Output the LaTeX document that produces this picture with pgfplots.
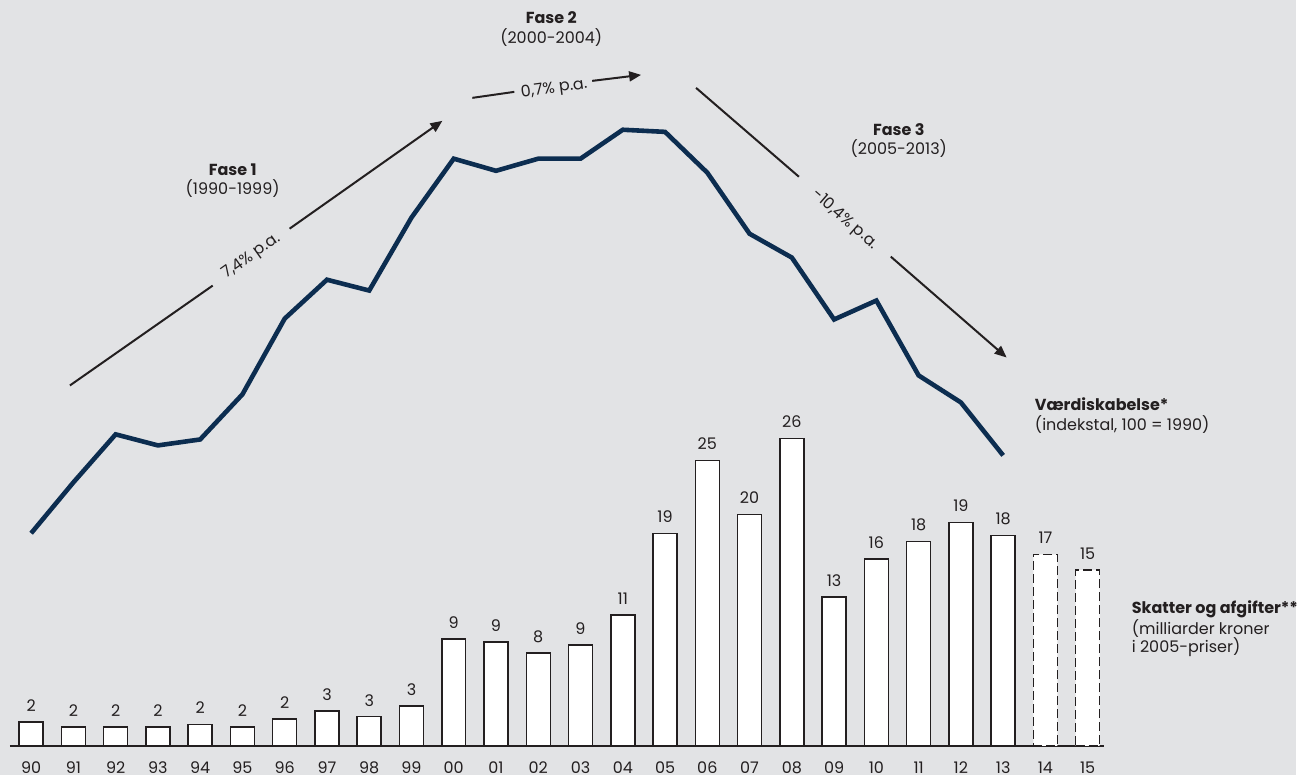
\documentclass[border=0pt]{standalone}
\usepackage{fontspec}
\setmainfont{Poppins}
\usepackage{pgfplots}
\pgfplotsset{compat=1.18}
\usetikzlibrary{arrows.meta}
\definecolor{bg}{RGB}{226,227,229}
\definecolor{navy}{RGB}{12,45,80}
\definecolor{txt}{RGB}{35,31,32}
\newcommand\f{\fontsize{8}{10}\selectfont}
\begin{document}
\begin{tikzpicture}
\fill[bg] (0,0) rectangle (649pt,388pt);
% bars
\begin{axis}[at={(5pt,14.5pt)}, anchor=south west, x=21.16pt, y=5.8pt,
  xmin=-0.5, xmax=25.38, ymin=0, ymax=64.4, clip=false,
  axis x line=bottom, axis y line=none, x axis line style={-, draw=txt, line width=0.8pt},
  xtick={0,...,25}, ytick=\empty,
  xticklabels={90,91,92,93,94,95,96,97,98,99,00,01,02,03,04,05,06,07,08,09,10,11,12,13,14,15},
  major tick length=0pt,
  xticklabel style={anchor=base, yshift=-14pt, font=\f, text=txt},
  every node near coord/.append style={font=\f, text=txt, yshift=1.5pt},
]
\addplot[ybar, bar width=12pt, bar shift=0pt, fill=white, draw=txt, line width=0.75pt,
  nodes near coords, point meta=explicit symbolic]
  table[x=x, y=y, meta=lab] {
x y lab
0 2.09 2
1 1.64 2
2 1.64 2
3 1.64 2
4 1.87 2
5 1.64 2
6 2.33 2
7 3.02 3
8 2.53 3
9 3.45 3
10 9.22 9
11 8.97 9
12 8.02 8
13 8.71 9
14 11.29 11
15 18.36 19
16 24.66 25
17 20.00 20
18 26.55 26
19 12.84 13
20 16.12 16
21 17.67 18
22 19.31 19
23 18.19 18
};
\addplot[ybar, bar width=12pt, bar shift=0pt, fill=white, draw=txt, line width=0.75pt,
  dash pattern=on 4.5pt off 2pt,
  nodes near coords, point meta=explicit symbolic]
  table[x=x, y=y, meta=lab] {
x y lab
24 16.55 17
25 15.17 15
};
\end{axis}
% line
\begin{axis}[at={(5pt,14.5pt)}, anchor=south west, x=21.16pt, y=1.065pt,
  xmin=-0.5, xmax=25.38, ymin=0, ymax=350.7, clip=false, axis lines=none,
  xtick=\empty, ytick=\empty]
\addplot[navy, line width=2.3pt, mark=none] coordinates {
(0,100.0) (1,123.9) (2,146.5) (3,141.3) (4,144.1) (5,165.3) (6,200.9) (7,219.2)
(8,214.1) (9,248.4) (10,276.1) (11,270.4) (12,276.1) (13,276.1) (14,289.7)
(15,288.7) (16,269.5) (17,240.8) (18,229.6) (19,200.5) (20,209.4) (21,174.2)
(22,161.5) (23,136.6)};
\end{axis}
% annotations (pixel coordinates, origin top-left)
\begin{scope}[x=0.5pt, y=-0.5pt, yshift=388pt, font=\f, text=txt]
\draw[txt, line width=1pt] (70,386) -- (213,286);
\draw[txt, line width=1pt, -{Triangle[length=6pt,width=5pt]}] (290,229) -- (443,121);
\node[rotate=35.4] at (252,257) {7,4\% p.a.};
\node[font=\f\bfseries] at (233,170) {Fase 1};
\node at (233,189) {(1990-1999)};

\draw[txt, line width=1pt] (473,98) -- (515,92);
\draw[txt, line width=1pt, -{Triangle[length=6pt,width=5pt]}] (593,81) -- (642,75);
\node[rotate=7.7] at (555,89) {0,7\% p.a.};
\node[font=\f\bfseries] at (552,18) {Fase 2};
\node at (552,38) {(2000-2004)};

\draw[txt, line width=1pt] (697,88) -- (800,177);
\draw[txt, line width=1pt, -{Triangle[length=6pt,width=5pt]}] (892,257) -- (1008,358);
\node[rotate=-41] at (846,220) {-10,4\% p.a.};
\node[font=\f\bfseries] at (900,130) {Fase 3};
\node at (900,149) {(2005-2013)};

\node[anchor=west, font=\f\bfseries, inner sep=0pt] at (1036,405) {Værdiskabelse*};
\node[anchor=west, inner sep=0pt] at (1036,425) {(indekstal, 100 = 1990)};
\node[anchor=west, font=\f\bfseries, inner sep=0pt] at (1133,610) {Skatter og afgifter**};
\node[anchor=west, inner sep=0pt] at (1133,629) {(milliarder kroner};
\node[anchor=west, inner sep=0pt] at (1133,648) {i 2005-priser)};
\end{scope}
\end{tikzpicture}
\end{document}
